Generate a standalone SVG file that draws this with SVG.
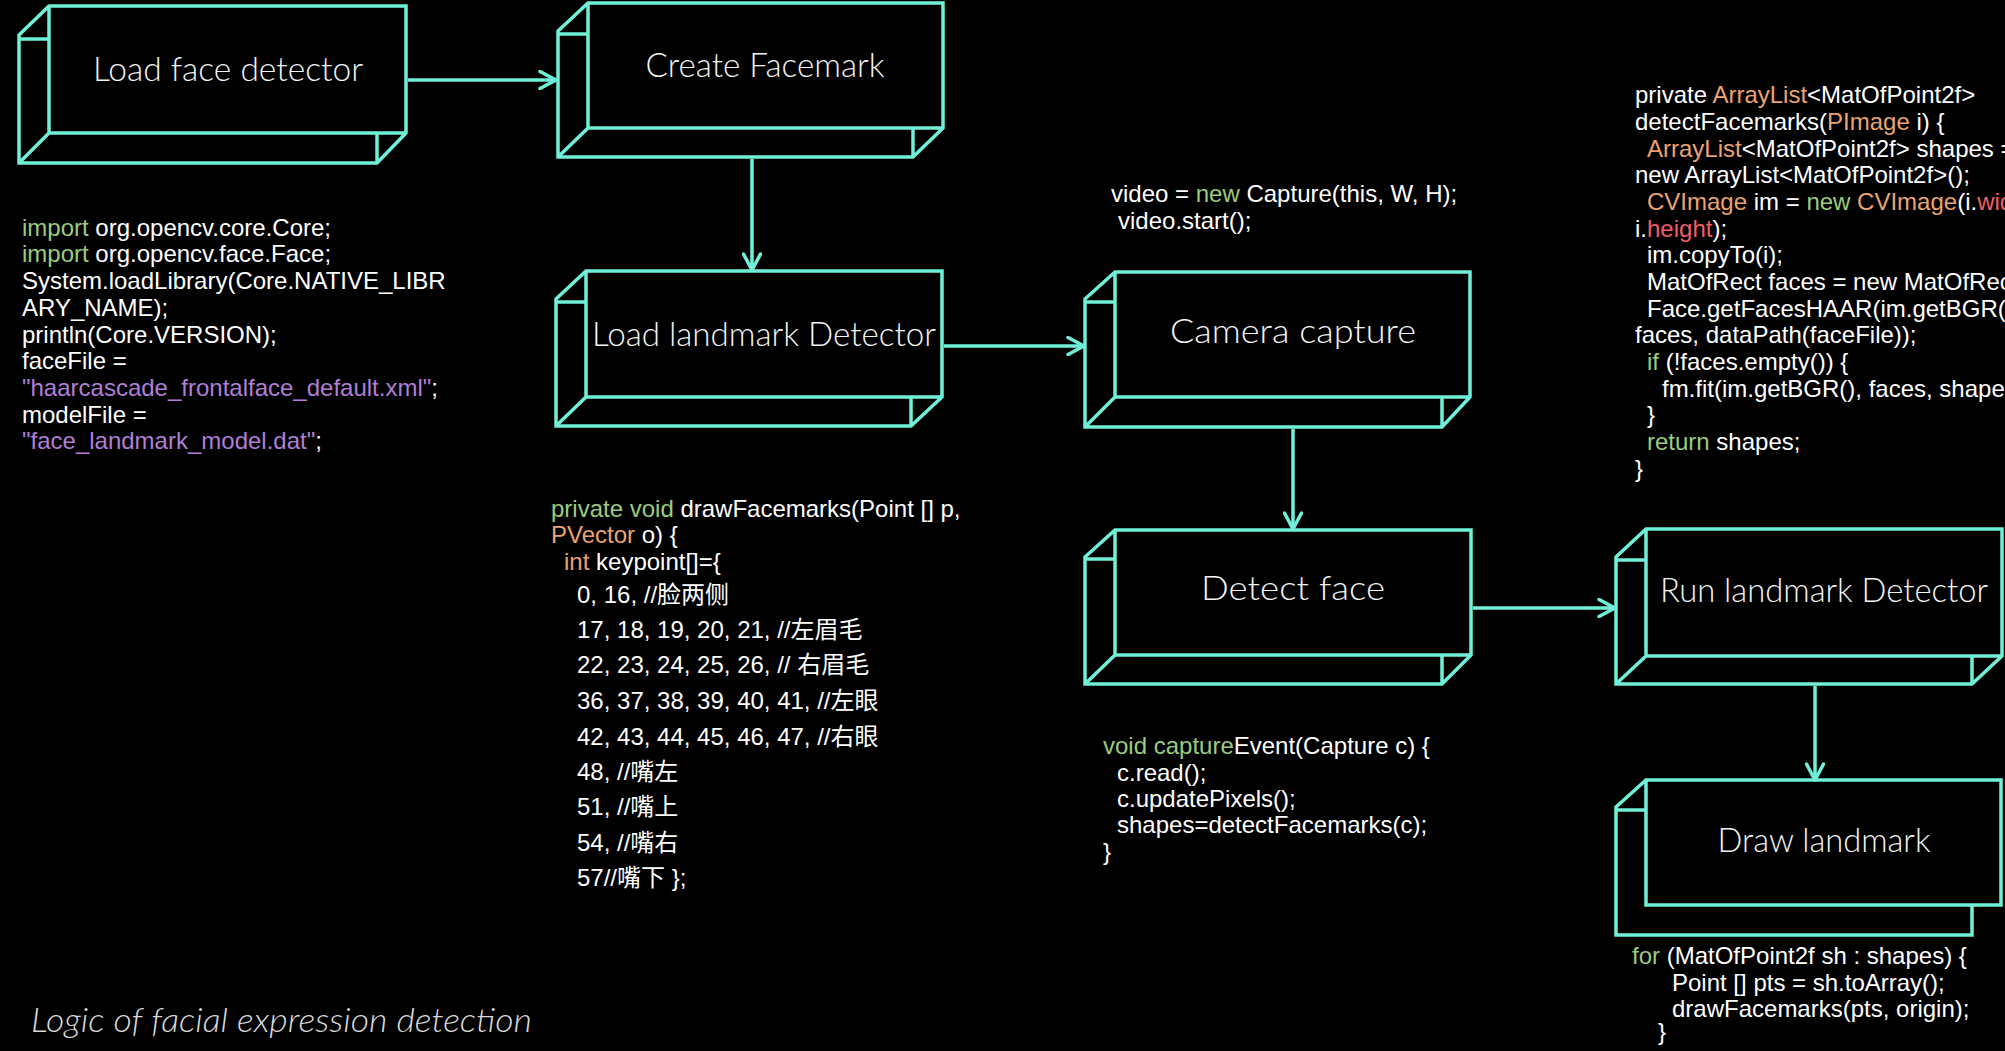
<svg xmlns="http://www.w3.org/2000/svg" width="2005" height="1051" viewBox="0 0 2005 1051">
<defs>
<style>
.bx{fill:none;stroke:#70f0d8;stroke-width:3.5;stroke-linejoin:miter}
.cn{fill:none;stroke:#70f0d8;stroke-width:3.5}
.lb{font-family:Lato,"Open Sans","Liberation Sans",sans-serif;font-weight:300;font-size:33px;fill:#f4f4f4;text-anchor:middle}
.cd{font-family:"Liberation Sans",Arial,"Noto Sans CJK SC",sans-serif;font-size:24px;fill:#ffffff}
.g{fill:#9ccb7d}
.o{fill:#e9a472}
.p{fill:#b07ed8}
.r{fill:#ef5f66}
.cap{font-family:Lato,"Open Sans","Liberation Sans",sans-serif;font-style:italic;font-weight:300;font-size:33px;fill:#d9d9d9}
</style>
<marker id="ah" viewBox="0 0 20 20" refX="18" refY="10" markerWidth="20" markerHeight="20" markerUnits="userSpaceOnUse" orient="auto">
<path d="M2,1.5 L18,10 L2,18.5" fill="none" stroke="#70f0d8" stroke-width="3.5" stroke-linecap="round" stroke-linejoin="round"/>
</marker>
</defs>
<rect width="2005" height="1051" fill="#000000"/>

<g id="connectors">
<line class="cn" x1="408" y1="80" x2="556" y2="80" marker-end="url(#ah)"/>
<line class="cn" x1="752" y1="159" x2="752" y2="270" marker-end="url(#ah)"/>
<line class="cn" x1="944" y1="346" x2="1084" y2="346" marker-end="url(#ah)"/>
<line class="cn" x1="1293" y1="429" x2="1293" y2="529" marker-end="url(#ah)"/>
<line class="cn" x1="1473" y1="608" x2="1615" y2="608" marker-end="url(#ah)"/>
<line class="cn" x1="1815" y1="686" x2="1815" y2="780" marker-end="url(#ah)"/>
</g>

<g id="node-load-face-detector">
<path class="bx" d="M19,35 L49,6 L406,6 L406,133 L377,163 L19,163 Z M49,6 L49,133 L406,133 M49,133 L19,163 M19,39 L49,39 M377,133 L377,163"/>
<text class="lb" x="228" y="81" textLength="270" lengthAdjust="spacingAndGlyphs">Load face detector</text>
</g>

<g id="node-create-facemark">
<path class="bx" d="M558,31 L588,3 L943,3 L943,128 L913,157 L558,157 Z M588,3 L588,128 L943,128 M588,128 L558,157 M558,34 L588,34 M913,128 L913,157"/>
<text class="lb" x="765" y="77" textLength="239" lengthAdjust="spacingAndGlyphs">Create Facemark</text>
</g>

<g id="node-load-landmark-detector">
<path class="bx" d="M556,299 L586,271 L942,271 L942,397 L911,426 L556,426 Z M586,271 L586,397 L942,397 M586,397 L556,426 M556,302 L586,302 M911,397 L911,426"/>
<text class="lb" x="764" y="346" textLength="344" lengthAdjust="spacingAndGlyphs">Load landmark Detector</text>
</g>

<g id="node-camera-capture">
<path class="bx" d="M1085,299 L1115,272 L1470,272 L1470,397 L1442,427 L1085,427 Z M1115,272 L1115,397 L1470,397 M1115,397 L1085,427 M1085,302 L1115,302 M1442,397 L1442,427"/>
<text class="lb" x="1293" y="343" textLength="246" lengthAdjust="spacingAndGlyphs">Camera capture</text>
</g>

<g id="node-detect-face">
<path class="bx" d="M1085,557 L1115,530 L1471,530 L1471,655 L1442,684 L1085,684 Z M1115,530 L1115,655 L1471,655 M1115,655 L1085,684 M1085,559 L1115,559 M1442,655 L1442,684"/>
<text class="lb" x="1293" y="600" textLength="184" lengthAdjust="spacingAndGlyphs">Detect face</text>
</g>

<g id="node-run-landmark-detector">
<path class="bx" d="M1616,557 L1646,529 L2002,529 L2002,656 L1972,684 L1616,684 Z M1646,529 L1646,656 L2002,656 M1646,656 L1616,684 M1616,560 L1646,560 M1972,656 L1972,684"/>
<text class="lb" x="1824" y="602" textLength="328" lengthAdjust="spacingAndGlyphs">Run landmark Detector</text>
</g>

<g id="node-draw-landmark">
<path class="bx" d="M1616,807 L1646,780 L2001,780 L2001,905 L1972,905 L1972,935 L1616,935 Z M1646,780 L1646,905 L1972,905 M1616,810 L1646,810"/>
<text class="lb" x="1824" y="852" textLength="213" lengthAdjust="spacingAndGlyphs">Draw landmark</text>
</g>

<g id="code-load">
<text class="cd" x="22" y="236"><tspan class="g">import</tspan> org.opencv.core.Core;</text>
<text class="cd" x="22" y="262"><tspan class="g">import</tspan> org.opencv.face.Face;</text>
<text class="cd" x="22" y="289">System.loadLibrary(Core.NATIVE_LIBR</text>
<text class="cd" x="22" y="316">ARY_NAME);</text>
<text class="cd" x="22" y="343">println(Core.VERSION);</text>
<text class="cd" x="22" y="369">faceFile =</text>
<text class="cd" x="22" y="396"><tspan class="p">"haarcascade_frontalface_default.xml"</tspan>;</text>
<text class="cd" x="22" y="423">modelFile =</text>
<text class="cd" x="22" y="449"><tspan class="p">"face_landmark_model.dat"</tspan>;</text>
</g>

<g id="code-draw">
<text class="cd" x="551" y="517"><tspan class="g">private void</tspan> drawFacemarks(Point [] p,</text>
<text class="cd" x="551" y="543"><tspan class="o">PVector</tspan> o) {</text>
<text class="cd" x="564" y="570"><tspan class="o">int</tspan> keypoint[]={</text>
<text class="cd" x="577" y="603">0, 16, //脸两侧</text>
<text class="cd" x="577" y="638">17, 18, 19, 20, 21, //左眉毛</text>
<text class="cd" x="577" y="673">22, 23, 24, 25, 26, // 右眉毛</text>
<text class="cd" x="577" y="709">36, 37, 38, 39, 40, 41, //左眼</text>
<text class="cd" x="577" y="745">42, 43, 44, 45, 46, 47, //右眼</text>
<text class="cd" x="577" y="780">48, //嘴左</text>
<text class="cd" x="577" y="815">51, //嘴上</text>
<text class="cd" x="577" y="851">54, //嘴右</text>
<text class="cd" x="577" y="886">57//嘴下 };</text>
</g>

<g id="code-capture">
<text class="cd" x="1111" y="202">video = <tspan class="g">new</tspan> Capture(this, W, H);</text>
<text class="cd" x="1118" y="229">video.start();</text>
</g>

<g id="code-event">
<text class="cd" x="1103" y="754"><tspan class="g">void capture</tspan>Event(Capture c) {</text>
<text class="cd" x="1117" y="781">c.read();</text>
<text class="cd" x="1117" y="807">c.updatePixels();</text>
<text class="cd" x="1117" y="833">shapes=detectFacemarks(c);</text>
<text class="cd" x="1103" y="860">}</text>
</g>

<g id="code-detect">
<text class="cd" x="1635" y="103">private <tspan class="o">ArrayList</tspan>&lt;MatOfPoint2f&gt;</text>
<text class="cd" x="1635" y="130">detectFacemarks(<tspan class="o">PImage</tspan> i) {</text>
<text class="cd" x="1647" y="157"><tspan class="o">ArrayList</tspan>&lt;MatOfPoint2f&gt; shapes =</text>
<text class="cd" x="1635" y="183">new ArrayList&lt;MatOfPoint2f&gt;();</text>
<text class="cd" x="1647" y="210"><tspan class="o">CVImage</tspan> im = <tspan class="g">new</tspan> <tspan class="o">CVImage</tspan>(i.<tspan class="r">width</tspan>,</text>
<text class="cd" x="1635" y="237">i.<tspan class="r">height</tspan>);</text>
<text class="cd" x="1647" y="263">im.copyTo(i);</text>
<text class="cd" x="1647" y="290">MatOfRect faces = new MatOfRect();</text>
<text class="cd" x="1647" y="317">Face.getFacesHAAR(im.getBGR(),</text>
<text class="cd" x="1635" y="343">faces, dataPath(faceFile));</text>
<text class="cd" x="1647" y="370"><tspan class="g">if</tspan> (!faces.empty()) {</text>
<text class="cd" x="1662" y="397">fm.fit(im.getBGR(), faces, shapes);</text>
<text class="cd" x="1647" y="423">}</text>
<text class="cd" x="1647" y="450"><tspan class="g">return</tspan> shapes;</text>
<text class="cd" x="1635" y="477">}</text>
</g>

<g id="code-loop">
<text class="cd" x="1632" y="964"><tspan class="g">for</tspan> (MatOfPoint2f sh : shapes) {</text>
<text class="cd" x="1672" y="991">Point [] pts = sh.toArray();</text>
<text class="cd" x="1672" y="1017">drawFacemarks(pts, origin);</text>
<text class="cd" x="1658" y="1040">}</text>
</g>

<text class="cap" x="31" y="1032" textLength="501" lengthAdjust="spacingAndGlyphs">Logic of facial expression detection</text>
</svg>
